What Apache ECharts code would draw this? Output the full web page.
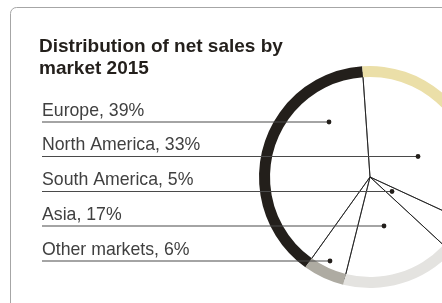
<!DOCTYPE html>
<html>
<head>
<meta charset="utf-8">
<script src="https://cdn.jsdelivr.net/npm/echarts@6/dist/echarts.min.js"></script>
<style>
html,body{margin:0;padding:0;background:#fff;}
#chart{width:442px;height:303px;}
</style>
</head>
<body>
<div id="chart"></div>
<script>
// ---- data ----
const markets = ['Europe', 'North America', 'South America', 'Asia', 'Other markets'];
const shares = [39, 33, 5, 17, 6];
const title = 'Distribution of net sales by\nmarket 2015';

// ---- style / layout ----
const colors = ['#231f1b', '#ebdfa8', '#cfc8b4', '#e4e3e0', '#aeaba2'];
const center = [370, 177];
const rowY = [122, 156.5, 191.5, 226, 261];
const dotX = [329, 418, 392, 384, 330];
const lineX0 = 42;
const startAngle = 234.4;

const chart = echarts.init(document.getElementById('chart'), null, {renderer: 'canvas'});

const pieData = markets.map((m, i) => ({
  name: m,
  value: shares[i],
  itemStyle: {color: colors[i]}
}));

const graphics = [
  {type: 'rect', shape: {x: 10.5, y: 7.5, width: 600, height: 400, r: 6},
   style: {fill: 'none', stroke: '#a6a6a6', lineWidth: 1}, z: 0, silent: true},
  {type: 'text', left: 39, top: 36, z: 10,
   style: {text: title, font: 'bold 19px "Liberation Sans", Arial, sans-serif',
           fill: '#231f1b', lineHeight: 22}}
];
markets.forEach((m, i) => {
  graphics.push({type: 'line', z: 10, silent: true,
    shape: {x1: lineX0, y1: rowY[i], x2: dotX[i], y2: rowY[i]},
    style: {stroke: '#4a4a4a', lineWidth: 1.2}});
  graphics.push({type: 'circle', z: 11, silent: true,
    shape: {cx: dotX[i], cy: rowY[i], r: 2.4},
    style: {fill: '#231f1b'}});
  graphics.push({type: 'text', z: 10, silent: true,
    x: lineX0, y: rowY[i] - 2,
    style: {text: m + ', ' + shares[i] + '%',
            font: '17.7px "Liberation Sans", Arial, sans-serif',
            fill: '#404040', textVerticalAlign: 'bottom'}});
});

chart.setOption({
  animation: false,
  backgroundColor: '#fff',
  series: [
    {
      type: 'pie', z: 1, silent: true,
      center: center, radius: [0, 105],
      startAngle: startAngle, clockwise: true,
      label: {show: false}, labelLine: {show: false},
      emphasis: {disabled: true},
      itemStyle: {color: 'rgba(0,0,0,0)', borderColor: '#1a1a1a', borderWidth: 0.8},
      data: markets.map((m, i) => ({name: m, value: shares[i]}))
    },
    {
      type: 'pie', z: 2, silent: true,
      center: center, radius: [100, 111],
      startAngle: startAngle, clockwise: true,
      label: {show: false}, labelLine: {show: false},
      emphasis: {disabled: true},
      itemStyle: {borderWidth: 0},
      data: pieData
    }
  ],
  graphic: graphics
});
</script>
</body>
</html>
